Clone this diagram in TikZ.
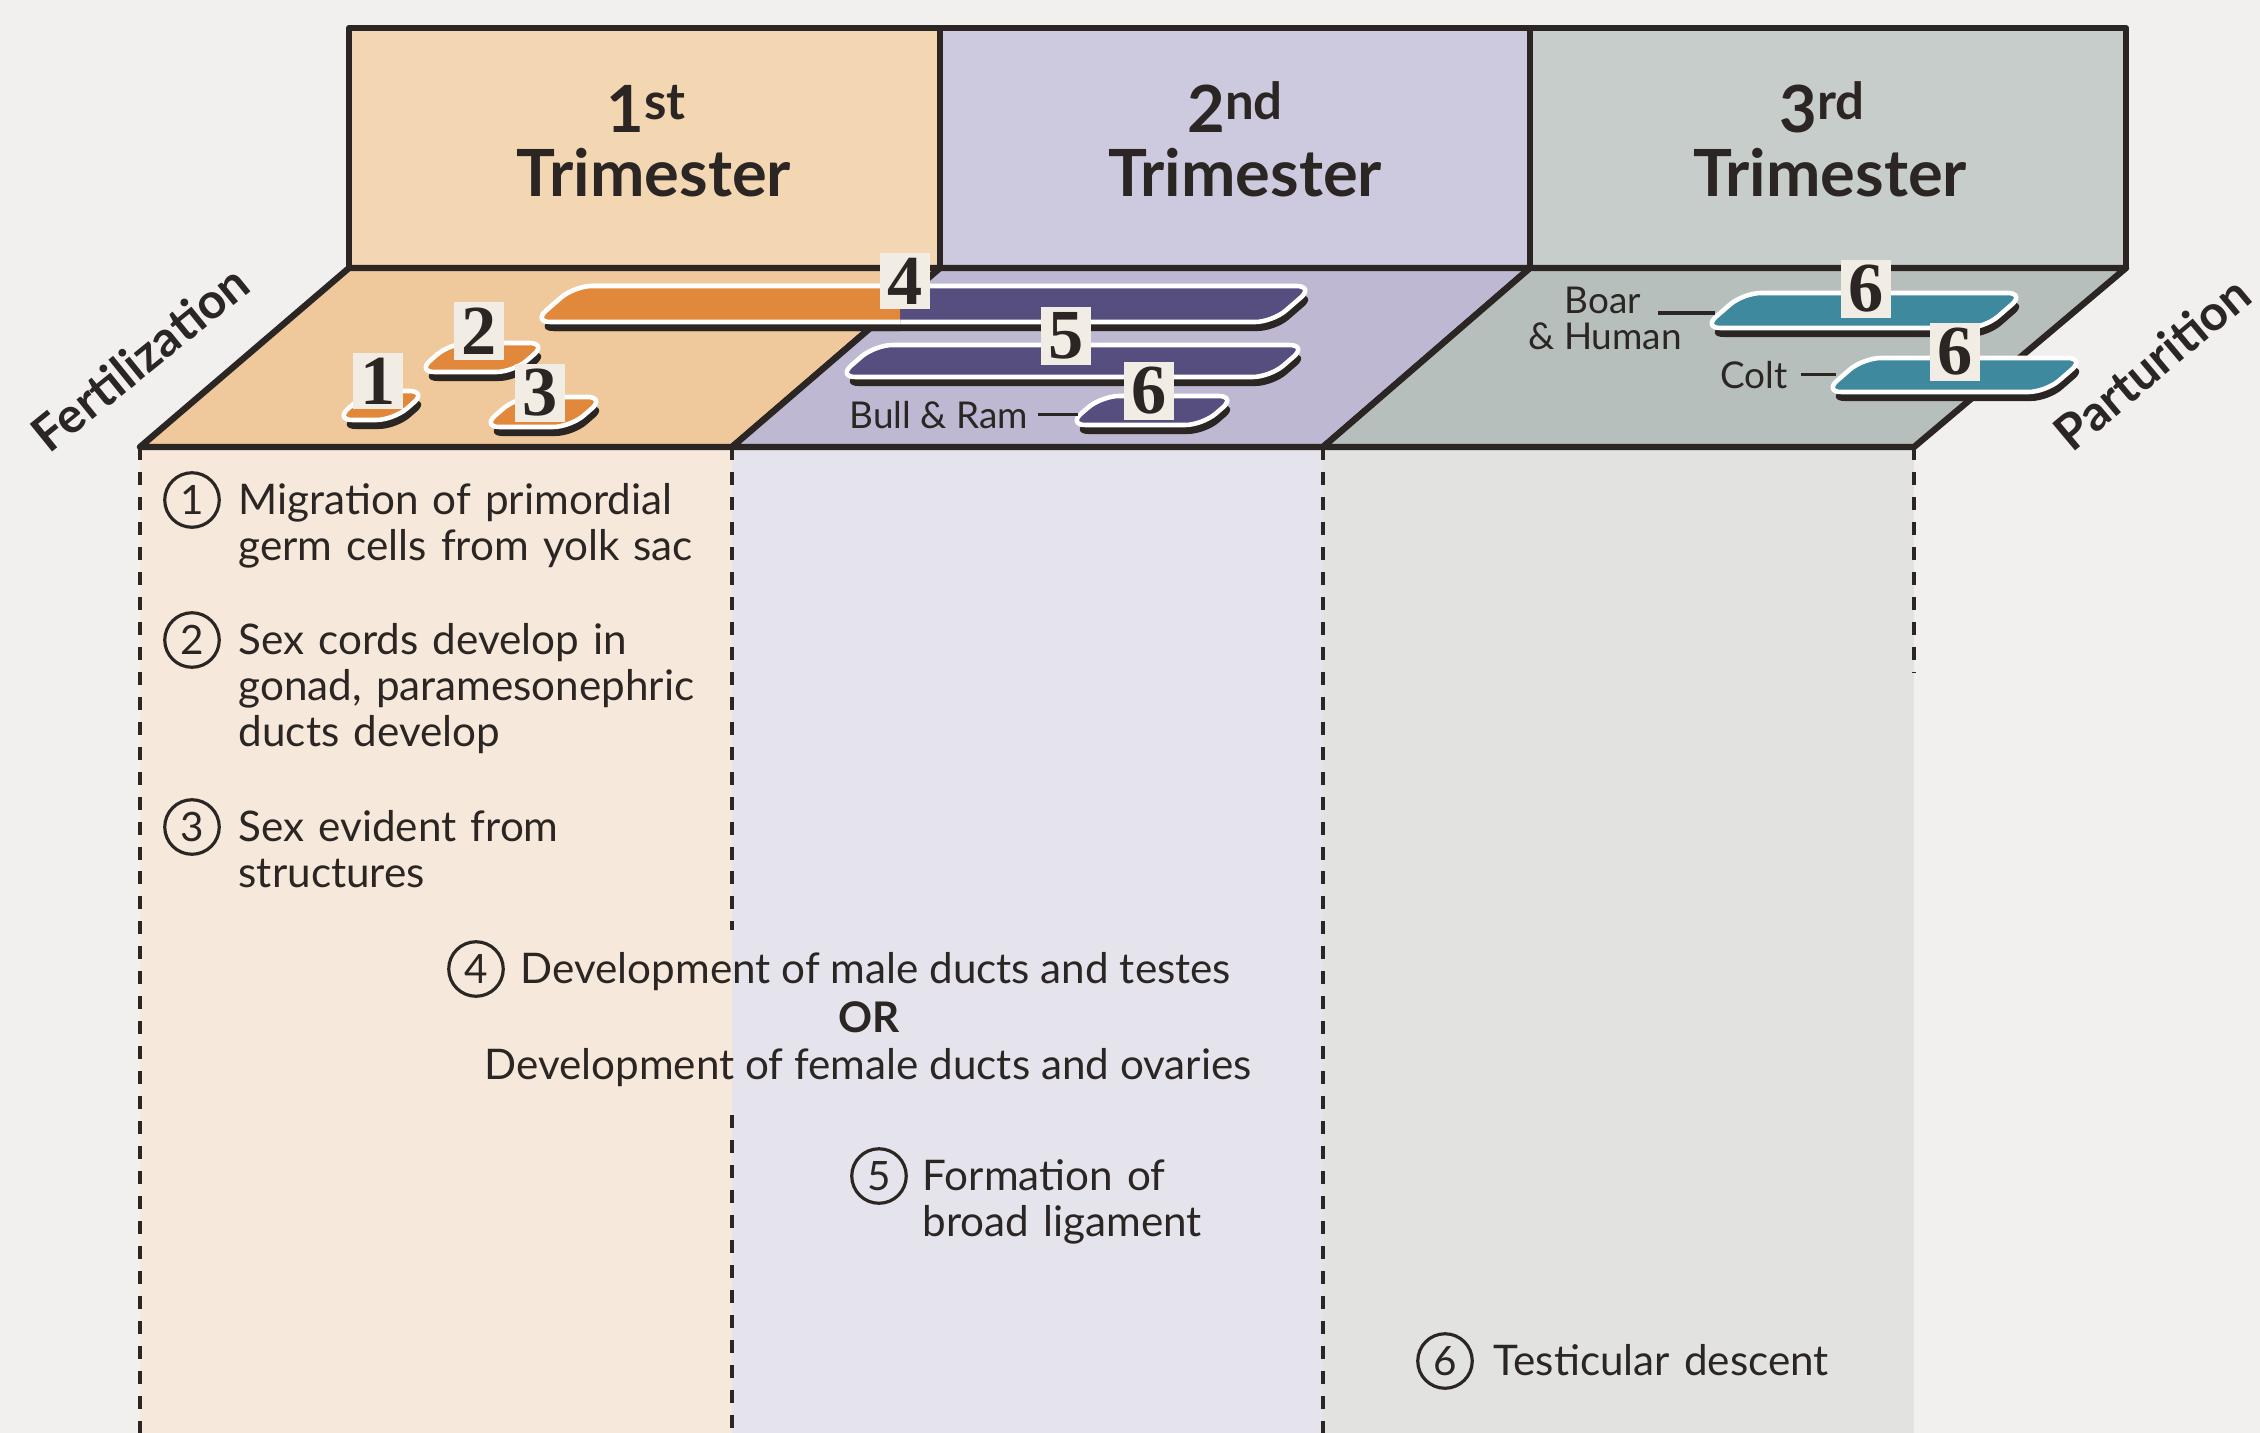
\documentclass[tikz,border=0pt]{standalone}
\usepackage{fontspec}
\setmainfont{Lato}
\newfontfamily\numfont{Liberation Serif}
\usetikzlibrary{positioning}

\definecolor{ink}{HTML}{2B2623}
\definecolor{paper}{HTML}{F2F0EF}
\definecolor{colA}{HTML}{F6E8DA}
\definecolor{colB}{HTML}{E5E3EB}
\definecolor{colC}{HTML}{E2E3E1}
\definecolor{topA}{HTML}{F3D6B2}
\definecolor{topB}{HTML}{CDC9DE}
\definecolor{topC}{HTML}{C7CDCB}
\definecolor{floorA}{HTML}{EFC99B}
\definecolor{floorB}{HTML}{BEB8D2}
\definecolor{floorC}{HTML}{B7BFBD}
\definecolor{barorange}{HTML}{E2883A}
\definecolor{barpurple}{HTML}{574E80}
\definecolor{barteal}{HTML}{3E899E}
\definecolor{labelbg}{HTML}{F1ECE4}

\tikzstyle{panel}=[draw=ink, line width=1.8pt, line join=round]
\tikzstyle{guide}=[draw=ink, line width=1pt, dash pattern=on 3.7pt off 3.4pt]
\tikzstyle{barshadow}=[fill=ink, rounded corners=5pt]
\tikzstyle{barrim}=[draw=white, line width=1.3pt, rounded corners=5pt]
\tikzstyle{barnum}=[fill=labelbg, inner xsep=2pt, inner ysep=1.5pt, text=ink, font=\numfont\bfseries\fontsize{20}{20}\selectfont]
\tikzstyle{num}=[circle, draw=ink, line width=0.9pt, minimum size=15.5pt, inner sep=0pt, text=ink, font=\fontsize{11.5}{11.5}\selectfont]
\tikzstyle{txt}=[inner sep=0pt, text=ink, font=\fontsize{12}{13.2}\selectfont]
\tikzstyle{para}=[txt, align=left, text width=6cm, anchor=base west]
\tikzstyle{head}=[inner sep=0pt, anchor=base, text=ink, font=\bfseries\fontsize{18.5}{18.5}\selectfont]
\tikzstyle{sidelabel}=[inner sep=0pt, text=ink, font=\bfseries\fontsize{14}{14}\selectfont]
\tikzstyle{animal}=[inner sep=1.5pt, text=ink, font=\fontsize{10.5}{10.5}\selectfont]
\tikzstyle{leader}=[draw=ink, line width=0.9pt]

% one bar: fill, left, right, top, bottom, name of its left end
\newcommand{\devbar}[6]{%
  \pgfmathsetmacro{\barslant}{1.15*(#5-#4)}
  \fill[barshadow] (#2+3,#5+9) -- (#2+\barslant+3,#4+9) -- (#3+3,#4+9) -- (#3-\barslant+3,#5+9) -- cycle;
  \filldraw[barrim, fill=#1] (#2,#5) -- (#2+\barslant,#4) -- (#3,#4) -- (#3-\barslant,#5) -- cycle;
  \coordinate (#6) at (#2+0.3*\barslant,{(#4+#5)/2});
}
% small raised suffix of the headings
\newcommand{\ordsuf}[1]{\raisebox{3.5pt}{\fontsize{14.5}{14.5}\selectfont #1}}

\begin{document}
\begin{tikzpicture}[x=0.01cm, y=-0.01cm]
\useasboundingbox (0,0) rectangle (2260,1433);
\fill[paper] (0,0) rectangle (2260,1433);

% corners of header and floor
\coordinate (t0) at (349,28);
\coordinate (t1) at (940,28);
\coordinate (t2) at (1530,28);
\coordinate (b0) at (349,268);
\coordinate (b1) at (940,268);
\coordinate (b2) at (1530,268);
\coordinate (b3) at (2126,268);
\coordinate (f0) at (140,447);
\coordinate (f1) at (732,447);
\coordinate (f2) at (1323,447);
\coordinate (f3) at (1914,447);
\coordinate (base) at (0,1433);

% columns under the floor
\fill[colA] (f0) rectangle (f1 |- base);
\fill[colB] (f1) rectangle (f2 |- base);
\fill[colC] (f2) rectangle (f3 |- base);

% header boxes
\filldraw[panel, fill=topA] (t0) rectangle (b1);
\filldraw[panel, fill=topB] (t1) rectangle (b2);
\filldraw[panel, fill=topC] (t2) rectangle (b3);

% floor
\filldraw[panel, fill=floorA] (f0) -- (b0) -- (b1) -- (f1) -- cycle;
\filldraw[panel, fill=floorB] (f1) -- (b1) -- (b2) -- (f2) -- cycle;
\filldraw[panel, fill=floorC] (f2) -- (b2) -- (b3) -- (f3) -- cycle;

% bars
\devbar{barorange}{335}{427}{391}{420}{bar1}
\devbar{barorange}{417}{547}{343}{372}{bar2}
\devbar{barorange}{482}{605}{397}{427}{bar3}
\devbar{barpurple}{533}{1314}{286}{322}{bar4}
\begin{scope}
  \clip (500,250) rectangle (900,350);
  \devbar{barorange}{533}{1314}{286}{322}{bar4a}
\end{scope}
\devbar{barpurple}{838}{1307}{345}{377}{bar5}
\devbar{barpurple}{1068}{1236}{396}{425}{bar6}
\devbar{barteal}{1703}{2025}{293}{328}{boarbar}
\devbar{barteal}{1824}{2085}{358}{392}{coltbar}

% tags on the bars
\node[barnum] (n1) at (378,381) {1};
\node[barnum] (n2) at (479,331) {2};
\node[barnum] (n3) at (540,393) {3};
\node[barnum] (n4) at (905,281) {4};
\node[barnum] (n5) at (1066,336) {5};
\node[barnum] (n6) at (1149,391) {6};
\node[barnum] (n6b) at (1866,289) {6};
\node[barnum] (n6c) at (1955,352) {6};

% headings
\node[head] (h1) at (646,132) {1\ordsuf{st}};
\node[head] (h1t) at (654,196) {Trimester};
\node[head] (h2) at (1235,132) {2\ordsuf{nd}};
\node[head] (h2t) at (1245,196) {Trimester};
\node[head] (h3) at (1822,132) {3\ordsuf{rd}};
\node[head] (h3t) at (1830,196) {Trimester};

\node[sidelabel, rotate=39] (fert) at (140,358) {Fertilization};
\node[sidelabel, rotate=40] (part) at (2152,363) {Parturition};

% species on the bars
\node[animal, anchor=base] (bull) at (939,428) {Bull \& Ram};
\node[animal, anchor=base] (boar) at (1603,313) {Boar};
\node[animal, anchor=base] (human) at (1605,349) {\& Human};
\node[animal, anchor=base] (colt) at (1754,388) {Colt};
\draw[leader, shorten <=1pt] (bull.east) -- (bull.east -| bar6);
\draw[leader, shorten <=3pt] (boar.base east) -- (boar.base east -| boarbar);
\draw[leader, shorten <=2pt] (colt.east) -- (colt.east -| coltbar);

% notes
\node[num] (c1) at (192,500) {1};
\node[para] (note1) at (238,514) {Migration of primordial\\germ cells from yolk sac};
\node[num] (c2) at (192,640) {2};
\node[para] (note2) at (238,654) {Sex cords develop in\\gonad, paramesonephric\\ducts develop};
\node[num] (c3) at (192,827) {3};
\node[para] (note3) at (238,841) {Sex evident from\\structures};
\node[num] (c4) at (476,969) {4};
\node[txt, anchor=base west] (dev4a) at (520,983) {Development of male ducts and testes};
\node[txt, anchor=base, font=\bfseries\fontsize{12}{13.2}\selectfont] (or4) at (869,1032) {OR};
\node[txt, anchor=base] (dev4b) at (868,1079) {Development of female ducts and ovaries};
\node[num] (c5) at (879,1176) {5};
\node[para] (note5) at (922,1190) {Formation of\\broad ligament};
\node[num] (c6) at (1445,1361) {6};
\node[para] (note6) at (1493,1375) {Testicular descent};

% dashed guides
\draw[guide] (f0) -- (f0 |- base);
\draw[guide, shorten >=6pt] (f1) -- (f1 |- dev4a.north);
\draw[guide, shorten <=8pt] (f1 |- dev4b.south) -- (f1 |- base);
\draw[guide] (f2) -- (f2 |- base);
\draw[guide] (f3) -- ++(0,226);
\end{tikzpicture}
\end{document}
